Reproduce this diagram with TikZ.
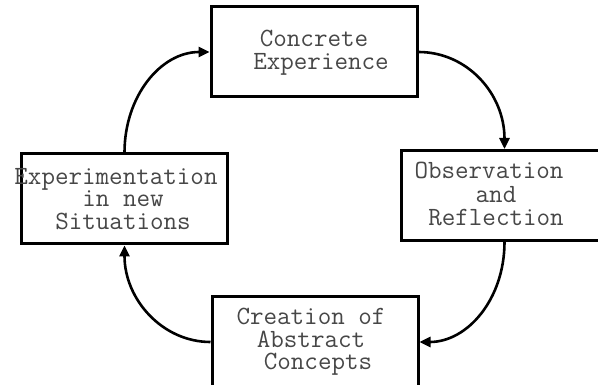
\documentclass[tikz,border=0pt]{standalone}
\usepackage{fontspec}
\usetikzlibrary{arrows.meta}
\begin{document}
\begin{tikzpicture}[x=1pt,y=-1pt,
  box/.style={draw=black,line width=3pt,minimum width=206pt,minimum height=90pt,inner sep=0pt},
  lbl/.style={anchor=base,inner sep=0pt,text height=15pt,text depth=3pt,text=black!72,font=\ttfamily\fontsize{26.3}{26}\selectfont},
  flow/.style={line width=2.6pt,-{Triangle[length=11pt,width=10pt]}}]
\useasboundingbox (0,0) rectangle (598,385);
\clip (0,0) rectangle (598,385);
\fill[white] (0,0) rectangle (598,385);
% boxes
\node[box] (tb) at (314,52) {};
\node[box] (lb) at (124.5,199) {};
\node[box] (rb) at (504.5,195.5) {};
\node[box] (bb) at (315,342) {};
% texts
\node[lbl] (t1) at (314,47) {Concrete};
\node[lbl] (t2) at (321,70) {Experience};
\node[lbl] (l1) at (116,185) {Experimentation};
\node[lbl] (l2) at (123,207) {in new};
\node[lbl] (l3) at (123,230) {Situations};
\node[lbl] (r1) at (489,179) {Observation};
\node[lbl] (r2) at (496,203) {and};
\node[lbl] (r3) at (496,226) {Reflection};
\node[lbl] (b1) at (311,325) {Creation of};
\node[lbl] (b2) at (311,348) {Abstract};
\node[lbl] (b3) at (318,370) {Concepts};
% connectors
\draw[flow] (lb.north) .. controls ([yshift=56pt]lb.north) and ([xshift=-49pt]tb.west) .. (tb.west);
\draw[flow] (tb.east) .. controls ([xshift=49pt]tb.east) and ([yshift=55pt]rb.north) .. (rb.north);
\draw[flow] (rb.south) .. controls ([yshift=-57pt]rb.south) and ([xshift=48pt]bb.east) .. (bb.east);
\draw[flow] (bb.west) .. controls ([xshift=-48pt]bb.west) and ([yshift=-54pt]lb.south) .. (lb.south);
\end{tikzpicture}
\end{document}
